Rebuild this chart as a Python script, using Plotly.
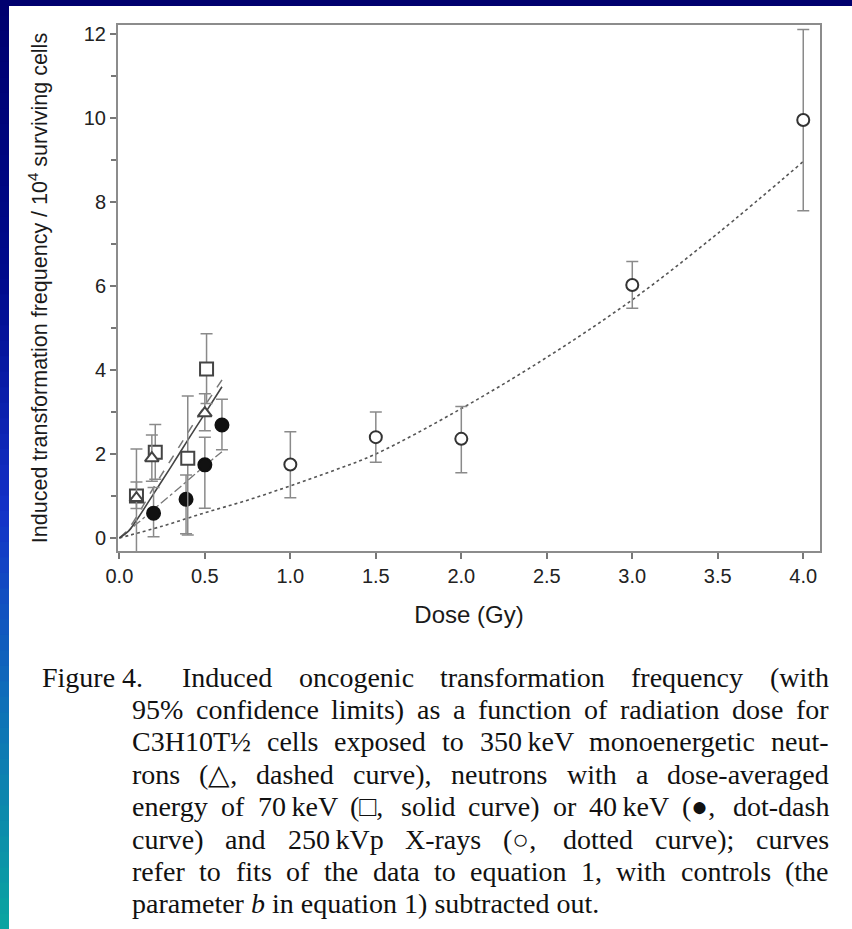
import plotly.graph_objects as go

# ---------------- data ----------------
# 250 kVp X-rays (open circles)
xray_dose = [1.0, 1.5, 2.0, 3.0, 4.0]
xray_freq = [1.75, 2.40, 2.36, 6.02, 9.95]
xray_hi = [2.53, 3.00, 3.13, 6.58, 12.1]
xray_lo = [0.96, 1.80, 1.55, 5.47, 7.79]

# 350 keV monoenergetic neutrons (open triangles)
n350_dose = [0.1, 0.19, 0.5]
n350_freq = [0.95, 1.90, 2.97]
n350_hi = [2.12, 2.45, 3.43]
n350_lo = [-0.4, 1.35, 2.55]

# 70 keV neutrons (open squares)
n70_dose = [0.1, 0.21, 0.4, 0.51]
n70_freq = [1.00, 2.04, 1.90, 4.02]
n70_hi = [1.33, 2.70, 3.38, 4.86]
n70_lo = [0.70, 1.40, 0.07, 3.20]

# 40 keV neutrons (filled circles)
n40_dose = [0.2, 0.39, 0.5, 0.6]
n40_freq = [0.59, 0.92, 1.74, 2.69]
n40_hi = [1.20, 1.50, 2.40, 3.30]
n40_lo = [0.03, 0.10, 0.71, 2.10]

# fitted curves (equation 1), controls subtracted
xray_fit_dose = [0, 0.25, 0.5, 0.75, 1.0, 1.25, 1.5, 2.0, 2.5, 3.0, 3.5, 4.0]
xray_fit_freq = [0, 0.28, 0.60, 0.90, 1.24, 1.60, 2.00, 3.08, 4.30, 5.67, 7.25, 8.96]
n350_fit_dose = [0, 0.05, 0.1, 0.2, 0.3, 0.4, 0.5, 0.62]
n350_fit_freq = [0, 0.20, 0.50, 1.20, 1.85, 2.50, 3.15, 3.88]
n70_fit_dose = [0, 0.05, 0.1, 0.2, 0.3, 0.4, 0.5, 0.6]
n70_fit_freq = [0, 0.15, 0.42, 1.05, 1.68, 2.33, 2.96, 3.60]
n40_fit_dose = [0, 0.1, 0.2, 0.3, 0.4, 0.5, 0.6]
n40_fit_freq = [0, 0.33, 0.68, 1.02, 1.37, 1.72, 2.05]

x_ticks = [0.0, 0.5, 1.0, 1.5, 2.0, 2.5, 3.0, 3.5, 4.0]
y_ticks = [0, 2, 4, 6, 8, 10, 12]

x_title = "Dose (Gy)"
y_title = "Induced transformation frequency / 10<sup>4</sup> surviving cells"

caption_head = "Figure 4."
caption_lines = [
    "Induced oncogenic transformation frequency (with",
    "95% confidence limits) as a function of radiation dose for",
    "C3H10T\u00bd cells exposed to 350\u2009keV monoenergetic neut-",
    "rons (\u25b3, dashed curve), neutrons with a dose-averaged",
    "energy of 70\u2009keV (\u25a1, solid curve) or 40\u2009keV (\u25cf, dot-dash",
    "curve) and 250\u2009kVp X-rays (\u25cb, dotted curve); curves",
    "refer to fits of the data to equation 1, with controls (the",
    "parameter <i>b</i> in equation 1) subtracted out.",
]

# ---------------- page geometry ----------------
FIG_W, FIG_H = 852, 929
L, R, T, B = 118, 820, 25, 551
PW, PH = R - L, B - T


def px(xpix):
    return (xpix - L) / PW


def py(ypix):
    return (B - ypix) / PH


AXIS_GREY = "#8c8c8c"
BAR_GREY = "#8a8a8a"
INK = "#1a1a1a"

fig = go.Figure()


def errs(freq, hi, lo):
    return [h - f for f, h in zip(freq, hi)], [f - l for f, l in zip(freq, lo)]


def add_curve(xs, ys, dash, color, width):
    fig.add_trace(go.Scatter(
        x=xs, y=ys, mode="lines", line=dict(color=color, width=width, dash=dash, shape="spline"),
        hoverinfo="skip", showlegend=False))


def add_points(xs, ys, hi, lo, symbol, size, color, fill):
    up, down = errs(ys, hi, lo)
    fig.add_trace(go.Scatter(
        x=xs, y=ys, mode="markers",
        marker=dict(symbol=symbol, size=size, color=fill,
                    line=dict(color=color, width=2)),
        error_y=dict(type="data", symmetric=False, array=up, arrayminus=down,
                     color=BAR_GREY, thickness=1.5, width=6),
        showlegend=False))


add_curve(xray_fit_dose, xray_fit_freq, "dot", "#555555", 1.6)
add_curve(n40_fit_dose, n40_fit_freq, "dashdot", "#777777", 1.3)
add_curve(n350_fit_dose, n350_fit_freq, "dash", "#777777", 1.5)
add_curve(n70_fit_dose, n70_fit_freq, "solid", "#444444", 1.6)

add_points(xray_dose, xray_freq, xray_hi, xray_lo, "circle", 12, "#333333", "white")
add_points(n40_dose, n40_freq, n40_hi, n40_lo, "circle", 13, "#111111", "#111111")
add_points(n70_dose, n70_freq, n70_hi, n70_lo, "square", 13, "#444444", "white")
add_points(n350_dose, n350_freq, n350_hi, n350_lo, "triangle-up", 12, "#444444", "white")

SANS = "Liberation Sans, Arial, sans-serif"
tick_font = dict(family=SANS, size=20, color="#222222")

fig.update_xaxes(
    range=[-0.008, 4.098], tickmode="array", tickvals=x_ticks,
    ticktext=[f"{v:.1f}" for v in x_ticks],
    ticks="outside", ticklen=6, tickwidth=2, tickcolor="#777777",
    showline=True, linecolor=AXIS_GREY, linewidth=2, mirror=True,
    showgrid=False, zeroline=False, tickfont=tick_font,
    title=dict(text=x_title, font=dict(family=SANS, size=24, color=INK), standoff=20))
fig.update_yaxes(
    range=[-0.31, 12.21], tickmode="array", tickvals=y_ticks,
    ticks="outside", ticklen=6, tickwidth=2, tickcolor="#777777",
    minor=dict(tickvals=[1, 3, 5, 7, 9, 11], ticks="outside", ticklen=5,
               tickwidth=2, tickcolor="#777777"),
    showline=True, linecolor=AXIS_GREY, linewidth=2, mirror=True,
    showgrid=False, zeroline=False, tickfont=tick_font,
    title=dict(text=y_title, font=dict(family=SANS, size=21.5, color=INK), standoff=30))

annotations = []

# ---------------- justified caption ----------------
# Times-Roman advance widths (1/1000 em)
TIMES_W = {
    " ": 250, "%": 833, "(": 333, ")": 333, ",": 250, "-": 333, ".": 250, ";": 278,
    "A": 722, "B": 667, "C": 667, "D": 722, "E": 611, "F": 556, "G": 722, "H": 722,
    "I": 333, "K": 722, "M": 889, "N": 722, "O": 722, "P": 556, "R": 667, "S": 556,
    "T": 611, "V": 722, "X": 722,
    "a": 444, "b": 500, "c": 444, "d": 500, "e": 444, "f": 333, "g": 500, "h": 500,
    "i": 278, "j": 278, "k": 500, "l": 278, "m": 778, "n": 500, "o": 500, "p": 500,
    "q": 500, "r": 333, "s": 389, "t": 278, "u": 500, "v": 500, "w": 722, "x": 500,
    "y": 500, "z": 444, "\u00bd": 750, "\u2009": 170,
    "\u25b3": 770, "\u25a1": 770, "\u25cf": 770, "\u25cb": 770,
}


def text_width(s, size):
    s = s.replace("<i>", "").replace("</i>", "")
    total = 0
    for ch in s:
        if ch.isdigit():
            total += 500
        else:
            total += TIMES_W.get(ch, 500)
    return total * size / 1000.0


CAP_SIZE = 28
CAP_FONT = dict(family="Liberation Serif, Times New Roman, serif", size=CAP_SIZE, color="#111111")
line_y0, line_step = 677, 32.4
indent_x, right_x, head_x, first_x = 130, 827, 40, 180

annotations.append(dict(text=caption_head, x=px(head_x), y=py(line_y0), xref="paper", yref="paper",
                        showarrow=False, xanchor="left", yanchor="middle", font=CAP_FONT))

for i, line in enumerate(caption_lines):
    ypix = line_y0 + i * line_step
    start = first_x if i == 0 else indent_x
    words = line.split(" ")
    if i == len(caption_lines) - 1:
        annotations.append(dict(text=line, x=px(start), y=py(ypix), xref="paper", yref="paper",
                                showarrow=False, xanchor="left", yanchor="middle", font=CAP_FONT))
        continue
    widths = [text_width(w, CAP_SIZE) for w in words]
    gap = (right_x - start - sum(widths)) / (len(words) - 1)
    xcur = start
    for w, wd in zip(words, widths):
        annotations.append(dict(text=w, x=px(xcur), y=py(ypix), xref="paper", yref="paper",
                                showarrow=False, xanchor="left", yanchor="middle", font=CAP_FONT))
        xcur += wd + gap

# ---------------- slide frame (navy top band, blue-teal side band) ----------------
shapes = [dict(type="rect", xref="paper", yref="paper", x0=px(0), x1=px(FIG_W),
               y0=py(0), y1=py(6), fillcolor="#00006e", line=dict(width=0), layer="above")]
stops = [(0.0, (0, 0, 110)), (0.3, (0, 10, 140)), (0.55, (20, 50, 200)),
         (0.75, (15, 110, 185)), (1.0, (10, 165, 160))]


def grad(t):
    for (t0, c0), (t1, c1) in zip(stops[:-1], stops[1:]):
        if t0 <= t <= t1:
            f = (t - t0) / (t1 - t0)
            return "rgb(%d,%d,%d)" % tuple(round(a + (b - a) * f) for a, b in zip(c0, c1))
    return "rgb(%d,%d,%d)" % stops[-1][1]


n_strips = 60
for k in range(n_strips):
    y0p = FIG_H * k / n_strips
    y1p = FIG_H * (k + 1) / n_strips + 1
    shapes.append(dict(type="rect", xref="paper", yref="paper", x0=px(0), x1=px(9),
                       y0=py(y0p), y1=py(y1p), fillcolor=grad((k + 0.5) / n_strips),
                       line=dict(width=0), layer="above"))

fig.update_layout(
    width=FIG_W, height=FIG_H, autosize=False,
    margin=dict(l=L, r=FIG_W - R, t=T, b=FIG_H - B, pad=0),
    paper_bgcolor="white", plot_bgcolor="white",
    showlegend=False, annotations=annotations, shapes=shapes,
)

fig.write_html("out.html")
